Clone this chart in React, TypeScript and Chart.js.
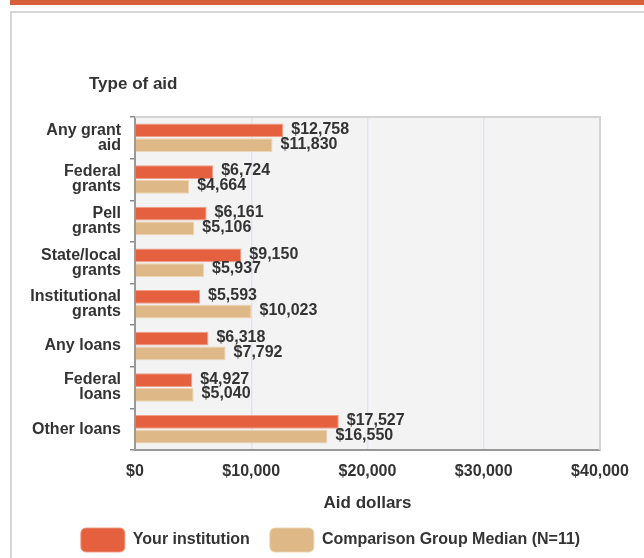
import React, { useEffect, useRef } from "react";
import { Chart, registerables } from "chart.js";

Chart.register(...registerables);

const categories: string[][] = [
  ["Any grant", "aid"],
  ["Federal", "grants"],
  ["Pell", "grants"],
  ["State/local", "grants"],
  ["Institutional", "grants"],
  ["Any loans"],
  ["Federal", "loans"],
  ["Other loans"],
];
const yourInstitution = [12758, 6724, 6161, 9150, 5593, 6318, 4927, 17527];
const comparisonMedian = [11830, 4664, 5106, 5937, 10023, 7792, 5040, 16550];
const seriesNames = ["Your institution", "Comparison Group Median (N=11)"];
const xTicks = [0, 10000, 20000, 30000, 40000];
const yTitle = "Type of aid";
const xTitle = "Aid dollars";

const FONT = "'Liberation Sans', Arial, Helvetica, sans-serif";
const TEXT = "#333333";
const ORANGE = "#E4603F";
const TAN = "#DEB887";

const fmt = (v: number) => "$" + v.toLocaleString("en-US");

export default function App() {
  const ref = useRef<HTMLCanvasElement | null>(null);

  useEffect(() => {
    const canvas = ref.current;
    if (!canvas) return;

    const plotBg = {
      id: "plotBg",
      afterLayout(chart: any) {
        const lg = chart.legend;
        if (lg) {
          lg.left = 31;
          lg.right = 630;
          lg.width = 599;
        }
      },
      beforeDraw(chart: any) {
        const { ctx, chartArea: a } = chart;
        ctx.save();
        ctx.fillStyle = "#f3f3f3";
        ctx.fillRect(a.left, a.top, a.right - a.left, a.bottom - a.top);
        ctx.restore();
      },
      beforeDatasetsDraw(chart: any) {
        const { ctx, chartArea: a } = chart;
        ctx.save();
        ctx.strokeStyle = "#d4d4d4";
        ctx.lineWidth = 2;
        ctx.beginPath();
        ctx.moveTo(a.left, a.top);
        ctx.lineTo(a.right, a.top);
        ctx.lineTo(a.right, a.bottom);
        ctx.stroke();
        ctx.restore();
      },
    };

    const labelsPlugin = {
      id: "valueLabels",
      afterDatasetsDraw(chart: any) {
        const { ctx } = chart;
        ctx.save();
        ctx.font = `bold 16px ${FONT}`;
        ctx.fillStyle = TEXT;
        ctx.textAlign = "left";
        ctx.textBaseline = "middle";
        chart.data.datasets.forEach((ds: any, di: number) => {
          const meta = chart.getDatasetMeta(di);
          meta.data.forEach((bar: any, i: number) => {
            ctx.fillText(fmt(ds.data[i]), bar.x + 8, bar.y - 1);
          });
        });
        const a = chart.chartArea;
        ctx.font = `bold 17px ${FONT}`;
        ctx.textAlign = "left";
        ctx.textBaseline = "alphabetic";
        ctx.fillText(yTitle, a.left - 46, a.top - 28);
        ctx.restore();
      },
    };

    const chart = new Chart(canvas, {
      type: "bar",
      data: {
        labels: categories,
        datasets: [
          {
            label: seriesNames[0],
            data: yourInstitution,
            backgroundColor: ORANGE,
            borderColor: "rgba(240,150,125,0.9)",
            borderWidth: 1,
            categoryPercentage: 0.71,
            barPercentage: 0.93,
          },
          {
            label: seriesNames[1],
            data: comparisonMedian,
            backgroundColor: TAN,
            borderColor: "rgba(236,210,175,0.9)",
            borderWidth: 1,
            categoryPercentage: 0.71,
            barPercentage: 0.93,
          },
        ],
      },
      options: {
        indexAxis: "y",
        responsive: false,
        animation: false,
        devicePixelRatio: 1,
        layout: { padding: { left: 0, right: 44, top: 117, bottom: 4 } },
        scales: {
          y: {
            afterFit(scale: any) {
              scale.width = 135;
            },
            grid: {
              offset: true,
              drawOnChartArea: false,
              drawTicks: true,
              tickLength: 5,
              color: "#888888",
              lineWidth: 1.5,
            },
            border: { display: true, color: "#999999", width: 2 },
            ticks: {
              padding: 9,
              color: TEXT,
              font: { family: FONT, size: 16, weight: "bold", lineHeight: 0.94 },
            },
          },
          x: {
            min: 0,
            max: 40000,
            afterFit(scale: any) {
              scale.height = 58;
            },
            afterBuildTicks(scale: any) {
              scale.ticks = xTicks.map((v) => ({ value: v }));
            },
            grid: {
              drawTicks: false,
              color: "#dfe5ef",
              lineWidth: 1.5,
            },
            border: { display: true, color: "#999999", width: 2 },
            ticks: {
              padding: 12,
              color: TEXT,
              font: { family: FONT, size: 16, weight: "bold" },
              callback: (v: any) => fmt(Number(v)),
            },
            title: {
              display: true,
              text: xTitle,
              color: TEXT,
              padding: 0,
              font: { family: FONT, size: 17, weight: "bold", lineHeight: 0.6 },
            },
          },
        },
        plugins: {
          legend: {
            position: "bottom",
            labels: {
              boxWidth: 44,
              boxHeight: 24,
              padding: 20,
              useBorderRadius: true,
              borderRadius: 5,
              color: TEXT,
              font: { family: FONT, size: 16, weight: "bold" },
            },
          },
          tooltip: { enabled: false },
        },
      } as any,
      plugins: [plotBg, labelsPlugin],
    });

    return () => chart.destroy();
  }, []);

  return (
    <div
      style={{
        position: "fixed",
        left: 0,
        top: 0,
        width: 644,
        height: 558,
        overflow: "hidden",
        background: "#ffffff",
      }}
    >
      <div
        style={{
          position: "absolute",
          left: 10,
          top: 0,
          width: 634,
          height: 5,
          background: "#D6603C",
        }}
      />
      <div
        style={{
          position: "absolute",
          left: 10,
          top: 11,
          width: 700,
          height: 700,
          borderTop: "2px solid #d6d6d6",
          borderLeft: "2px solid #d6d6d6",
        }}
      />
      <canvas
        ref={ref}
        width={644}
        height={566}
        style={{ position: "absolute", left: 0, top: 0, width: 644, height: 566 }}
      />
    </div>
  );
}
